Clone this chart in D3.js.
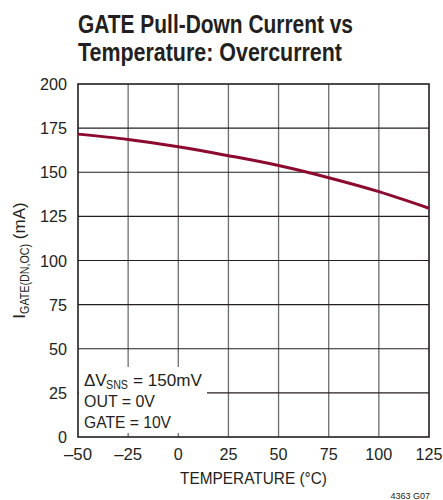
<!DOCTYPE html>
<html>
<head>
  <meta charset="utf-8">
  <style>
    body { margin: 0; background: #fff; }
    text { font-family: "Liberation Sans", Arial, sans-serif; fill: #231f20; }
    .title { font-size: 25px; font-weight: bold; }
    .tick { font-size: 17px; }
    .note { font-size: 17px; }
  </style>
</head>
<body>
  <svg width="443" height="500"></svg>
  <script src="https://d3js.org/d3.v7.min.js"></script>
  <script>
    const temps = [-50, -25, 0, 25, 50, 75, 100, 125];
    const current = [171.6, 168.6, 164.5, 159.4, 153.8, 146.9, 139.0, 129.6];
    const xTicks = [-50, -25, 0, 25, 50, 75, 100, 125];
    const yTicks = [0, 25, 50, 75, 100, 125, 150, 175, 200];

    const svg = d3.select("svg");
    const m = { left: 78, right: 429, top: 84, bottom: 437 };

    const x = d3.scaleLinear().domain([-50, 125]).range([m.left, m.right]);
    const y = d3.scaleLinear().domain([0, 200]).range([m.bottom, m.top]);

    // grid
    svg.append("g").selectAll("line")
      .data(xTicks.slice(1, -1))
      .enter().append("line")
      .attr("x1", d => x(d)).attr("x2", d => x(d))
      .attr("y1", m.top).attr("y2", m.bottom)
      .attr("stroke", "#6d6d6d").attr("stroke-width", 1.3);

    svg.append("g").selectAll("line")
      .data(yTicks.slice(1, -1))
      .enter().append("line")
      .attr("x1", m.left).attr("x2", m.right)
      .attr("y1", d => y(d)).attr("y2", d => y(d))
      .attr("stroke", "#231f20").attr("stroke-width", 1.1);

    // note box background
    svg.append("rect")
      .attr("x", m.left + 1).attr("y", 367)
      .attr("width", 128).attr("height", m.bottom - 367 - 4)
      .attr("fill", "#fff");

    svg.append("rect")
      .attr("x", m.left).attr("y", m.top)
      .attr("width", m.right - m.left).attr("height", m.bottom - m.top)
      .attr("fill", "none").attr("stroke", "#231f20").attr("stroke-width", 1.6);

    // curve
    const line = d3.line()
      .x((d, i) => x(temps[i]))
      .y(d => y(d))
      .curve(d3.curveMonotoneX);

    svg.append("path")
      .datum(current)
      .attr("d", line)
      .attr("fill", "none")
      .attr("stroke", "#8c0a2f")
      .attr("stroke-width", 3);

    // tick labels
    svg.append("g").selectAll("text")
      .data(yTicks)
      .enter().append("text")
      .attr("class", "tick")
      .attr("x", m.left - 11)
      .attr("y", d => y(d) + 6)
      .attr("text-anchor", "end")
      .attr("textLength", d => String(d).length * 9)
      .attr("lengthAdjust", "spacingAndGlyphs")
      .text(d => d);

    svg.append("g").selectAll("text")
      .data(xTicks)
      .enter().append("text")
      .attr("class", "tick")
      .attr("x", d => x(d))
      .attr("y", 460)
      .attr("text-anchor", "middle")
      .attr("textLength", d => (d < 0 ? String(d).length * 9 + 1 : String(d).length * 9))
      .attr("lengthAdjust", "spacingAndGlyphs")
      .text(d => d < 0 ? "\u2013" + Math.abs(d) : d);

    // titles
    svg.append("text").attr("class", "title").attr("x", 78).attr("y", 33)
      .attr("textLength", 275).attr("lengthAdjust", "spacingAndGlyphs")
      .text("GATE Pull-Down Current vs");
    svg.append("text").attr("class", "title").attr("x", 78).attr("y", 61)
      .attr("textLength", 264).attr("lengthAdjust", "spacingAndGlyphs")
      .text("Temperature: Overcurrent");

    svg.append("text").attr("class", "tick")
      .attr("x", 180).attr("y", 484)
      .attr("textLength", 147).attr("lengthAdjust", "spacingAndGlyphs")
      .text("TEMPERATURE (\u00B0C)");

    const yl = svg.append("text").attr("class", "tick")
      .attr("transform", "translate(25," + ((m.top + m.bottom) / 2) + ") rotate(-90)")
      .attr("text-anchor", "middle");
    yl.append("tspan").text("I");
    yl.append("tspan").attr("font-size", "12px").attr("dy", 4)
      .attr("textLength", 70).attr("lengthAdjust", "spacingAndGlyphs").text("GATE(DN,OC)");
    yl.append("tspan").attr("dy", -4).text(" (mA)");

    // notes
    svg.append("text").attr("class", "note").attr("x", 84).attr("y", 386).text("\u0394V");
    svg.append("text").attr("x", 106).attr("y", 389).attr("font-size", "13px")
      .attr("textLength", 22).attr("lengthAdjust", "spacingAndGlyphs").text("SNS");
    svg.append("text").attr("class", "note").attr("x", 133).attr("y", 386)
      .attr("textLength", 69).attr("lengthAdjust", "spacingAndGlyphs").text("= 150mV");
    svg.append("text").attr("class", "note").attr("x", 84).attr("y", 407)
      .attr("textLength", 71).attr("lengthAdjust", "spacingAndGlyphs").text("OUT = 0V");
    svg.append("text").attr("class", "note").attr("x", 84).attr("y", 428)
      .attr("textLength", 87).attr("lengthAdjust", "spacingAndGlyphs").text("GATE = 10V");

    svg.append("text").attr("x", 430).attr("y", 499)
      .attr("text-anchor", "end").attr("font-size", "9px")
      .text("4363 G07");
  </script>
</body>
</html>
